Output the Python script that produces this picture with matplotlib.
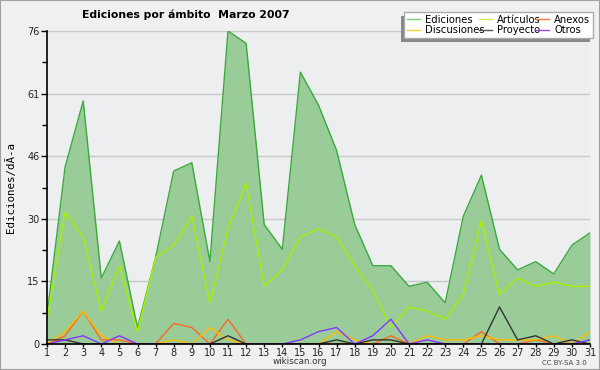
import matplotlib
matplotlib.use("Agg")
import matplotlib.pyplot as plt
import numpy as np
from matplotlib.patches import Rectangle
from matplotlib.lines import Line2D

days = list(range(1, 32))
ediciones = [7, 43, 59, 16, 25, 4, 21, 42, 44, 20, 76, 73, 29, 23, 66, 58, 47, 29, 19, 19, 14, 15, 10, 31, 41, 23, 18, 20, 17, 24, 27]
articulos = [6, 32, 26, 8, 19, 3, 21, 24, 31, 10, 28, 39, 14, 18, 26, 28, 26, 19, 13, 4, 9, 8, 6, 12, 30, 12, 16, 14, 15, 14, 14]
anexos = [0, 2, 8, 1, 1, 0, 0, 5, 4, 0, 6, 0, 0, 0, 0, 0, 0, 0, 0, 2, 0, 0, 0, 0, 3, 0, 0, 1, 0, 0, 0]
discusiones = [0, 3, 8, 2, 0, 0, 0, 1, 0, 4, 1, 0, 0, 0, 0, 0, 3, 1, 0, 0, 0, 2, 1, 1, 2, 1, 1, 1, 2, 0, 3]
proyecto = [1, 1, 0, 0, 0, 0, 0, 0, 0, 0, 2, 0, 0, 0, 0, 0, 1, 0, 1, 1, 0, 0, 0, 0, 0, 9, 1, 2, 0, 1, 0]
otros = [0, 1, 2, 0, 2, 0, 0, 0, 0, 0, 0, 0, 0, 0, 1, 3, 4, 0, 2, 6, 0, 1, 0, 0, 0, 0, 0, 0, 0, 0, 1]
ytick_labels = ["0", "15", "30", "46", "61", "76"]

title = "Ediciones por ámbito  Marzo 2007"
ylabel = "Ediciones/dÃ-a"

fig = plt.figure(figsize=(6, 3.7), dpi=100, facecolor="#f0f0f0")
fig.patches.append(Rectangle((0, 0), 1, 1, transform=fig.transFigure, fill=False,
                             edgecolor="#a0a0a0", linewidth=1.5, zorder=0))
ax = fig.add_axes([47/600, 1-344/370, (590-47)/600, (344-31)/370])
ax.set_facecolor("#eceef0")

ymax = 76
ax.set_xlim(1, 31)
ax.set_ylim(0, ymax)
yt = np.linspace(0, ymax, 6)
ax.set_yticks(yt)
ax.set_yticklabels(ytick_labels)
ax.set_yticks((yt[:-1] + yt[1:]) / 2, minor=True)
ax.set_xticks(days)
ax.set_xticklabels([str(d) for d in days])
ax.grid(axis="y", which="major", color="#c8c8c8", linewidth=1)
ax.set_axisbelow(True)

c_ed_line = "#3aaa3a"
c_ed_fill = "#99cc99"
c_art = "#aaee00"
c_anx = "#ff6622"
c_dis = "#ffbb00"
c_pro = "#333333"
c_otr = "#8833ff"

ax.fill_between(days, ediciones, 0, color=c_ed_fill, linewidth=0, zorder=1)
ax.plot(days, ediciones, color=c_ed_line, lw=1, zorder=2)
ax.plot(days, articulos, color=c_art, lw=1, zorder=3)
ax.plot(days, anexos, color=c_anx, lw=1, zorder=3)
ax.plot(days, discusiones, color=c_dis, lw=1, zorder=3)
ax.plot(days, proyecto, color=c_pro, lw=1, zorder=3)
ax.plot(days, otros, color=c_otr, lw=1, zorder=3)

for s in ["top", "right"]:
    ax.spines[s].set_visible(False)
for s in ["left", "bottom"]:
    ax.spines[s].set_linewidth(1.2)
    ax.spines[s].set_zorder(5)
ax.tick_params(axis="y", which="major", direction="out", length=4, width=1,
               labelsize=7, colors="#000000", labelcolor="#222222", pad=1.5)
ax.tick_params(axis="x", which="major", direction="out", length=2.5, width=1,
               labelsize=7, colors="#000000", labelcolor="#222222", pad=0.5)
ax.tick_params(axis="y", which="minor", direction="out", length=3.5, width=1)

ax.set_ylabel(ylabel, family="DejaVu Sans Mono", fontsize=7.8, labelpad=8)

fig.text(186/600, 1-15/370, title, ha="center", va="center", fontsize=7.8, fontweight="bold")
fig.text(300/600, 1-362/370, "wikiscan.org", ha="center", va="center", fontsize=6.3, color="#333333")
fig.text(587/600, 1-363/370, "CC BY-SA 3.0", ha="right", va="center", fontsize=5, color="#444444")

# Legend with shadow
handles = [Line2D([], [], color="#77cc77", lw=1), Line2D([], [], color="#ffcc33", lw=1),
           Line2D([], [], color="#ccee55", lw=1), Line2D([], [], color="#555555", lw=1),
           Line2D([], [], color="#ff7744", lw=1), Line2D([], [], color="#9944ee", lw=1)]
labels = ["Ediciones", "Discusiones", "Artículos", "Proyecto", "Anexos", "Otros"]
lx0, ly0, lx1, ly1 = 404, 12, 593, 38
fig.patches.append(Rectangle(((lx0-3)/600, 1-(ly1+4)/370), (lx1-lx0)/600, (ly1-ly0)/370,
                             transform=fig.transFigure, facecolor="#888888", edgecolor="none", zorder=8))
leg = fig.legend(handles, labels, ncol=3, loc="upper left",
                 bbox_to_anchor=(lx0/600, 1-ly1/370, (lx1-lx0)/600, (ly1-ly0)/370),
                 mode="expand", fontsize=7.2, frameon=True, fancybox=False,
                 edgecolor="#aaaaaa", facecolor="#ffffff", framealpha=1,
                 handlelength=1.3, handletextpad=0.5, columnspacing=0.3,
                 labelspacing=0.05, borderpad=0.25, borderaxespad=0)
leg.set_zorder(9)
leg.get_frame().set_linewidth(1)

fig.savefig("out.png", dpi=100, facecolor=fig.get_facecolor())
